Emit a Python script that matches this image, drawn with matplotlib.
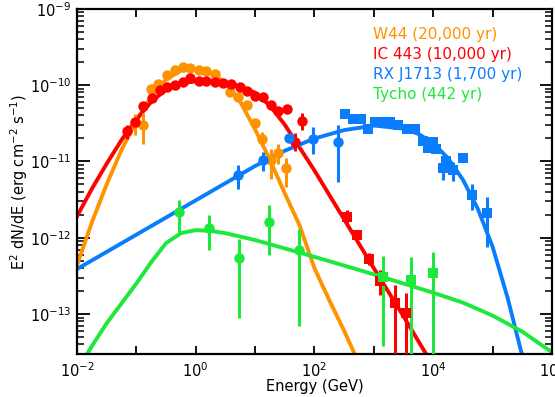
import numpy as np
import matplotlib
matplotlib.use("Agg")
import matplotlib.pyplot as plt
from matplotlib.ticker import NullFormatter, LogLocator

plt.rcParams['font.family'] = ['DejaVu Sans']
plt.rcParams['mathtext.default'] = 'regular'

# ---- colours ----
C_W44 = '#FF9200'
C_IC = '#FF0000'
C_RX = '#0A7DFF'
C_TY = '#1EE83C'

# ---- data (log10 E [GeV], log10 flux [erg cm^-2 s^-1], log err up/down) ----
w44_logE = [-1.02, -0.88, -0.76, -0.63, -0.49, -0.35, -0.22, -0.09, 0.05, 0.18, 0.32,
            0.58, 0.72, 0.86, 1.00, 1.11, 1.27, 1.39, 1.52]
w44_logF = [-10.50, -10.52, -10.05, -9.98, -9.87, -9.80, -9.76, -9.78, -9.80, -9.82, -9.85,
            -10.09, -10.15, -10.26, -10.50, -10.70, -10.98, -10.89, -11.09]
w44_up = [0.12, 0.15, 0.05, 0.03, 0.02, 0.02, 0.02, 0.02, 0.02, 0.02, 0.02,
          0.03, 0.03, 0.04, 0.05, 0.08, 0.14, 0.12, 0.14]
w44_dn = [0.15, 0.25, 0.05, 0.03, 0.02, 0.02, 0.02, 0.02, 0.02, 0.02, 0.02,
          0.03, 0.03, 0.04, 0.06, 0.10, 0.25, 0.15, 0.25]

ic_circ_logE = [-1.16, -1.02, -0.88, -0.74, -0.61, -0.49, -0.35, -0.22, -0.09, 0.05, 0.18,
                0.32, 0.46, 0.60, 0.74, 0.86, 1.00, 1.13, 1.27, 1.39, 1.53, 1.67, 1.79]
ic_circ_logF = [-10.60, -10.48, -10.27, -10.17, -10.07, -10.03, -10.00, -9.96, -9.91, -9.95, -9.95,
                -9.96, -9.97, -9.99, -10.02, -10.08, -10.14, -10.16, -10.26, -10.34, -10.31, -10.75, -10.47]
ic_circ_up = [0.08, 0.05, 0.04, 0.03, 0.02, 0.02, 0.02, 0.02, 0.02, 0.02, 0.02,
              0.02, 0.02, 0.02, 0.02, 0.02, 0.03, 0.03, 0.03, 0.04, 0.05, 0.12, 0.10]
ic_circ_dn = [0.10, 0.06, 0.04, 0.03, 0.02, 0.02, 0.02, 0.02, 0.02, 0.02, 0.02,
              0.02, 0.02, 0.02, 0.02, 0.02, 0.03, 0.03, 0.03, 0.04, 0.05, 0.12, 0.12]

ic_sq_logE = [2.55, 2.72, 2.92, 3.11, 3.35, 3.54]
ic_sq_logF = [-11.73, -11.96, -12.28, -12.57, -12.86, -12.99]
ic_sq_up = [0.10, 0.05, 0.08, 0.15, 0.24, 0.27]
ic_sq_dn = [0.10, 0.05, 0.08, 0.18, 1.5, 1.5]

rx_circ_logE = [0.72, 1.14, 1.57, 1.98, 2.39]
rx_circ_logF = [-11.18, -10.98, -10.69, -10.70, -10.74]
rx_circ_up = [0.13, 0.10, 0.05, 0.15, 0.22]
rx_circ_dn = [0.18, 0.14, 0.05, 0.20, 0.53]

rx_sq_logE = [2.51, 2.65, 2.79, 2.90, 3.02, 3.16, 3.27, 3.41, 3.55, 3.69, 3.83, 3.91,
              4.00, 4.05, 4.17, 4.22, 4.34, 4.50, 4.66, 4.90]
rx_sq_logF = [-10.38, -10.45, -10.45, -10.58, -10.49, -10.48, -10.49, -10.52, -10.57, -10.57,
              -10.73, -10.83, -10.74, -10.84, -11.09, -11.00, -11.11, -10.96, -11.44, -11.67]
rx_sq_up = [0.03] * 14 + [0.10, 0.05, 0.10, 0.05, 0.15, 0.20]
rx_sq_dn = [0.03] * 14 + [0.15, 0.05, 0.15, 0.05, 0.20, 0.45]

ty_circ_logE = [-0.28, 0.23, 0.73, 1.24, 1.74]
ty_circ_logF = [-11.66, -11.87, -12.26, -11.79, -12.16]
ty_circ_up = [0.15, 0.17, 0.25, 0.22, 0.27]
ty_circ_dn = [0.26, 0.29, 0.79, 0.43, 1.00]

ty_sq_logE = [3.16, 3.63, 3.99]
ty_sq_logF = [-12.51, -12.55, -12.46]
ty_sq_up = [0.27, 0.30, 0.27]
ty_sq_dn = [0.91, 1.5, 1.5]

# ---- model curves ----
w44_model_logE = [-2.0, -1.75, -1.5, -1.25, -1.0, -0.75, -0.5, -0.25, 0.0, 0.25, 0.5, 0.75,
                  1.0, 1.25, 1.5, 1.75, 2.0, 2.25, 2.5, 2.75]
w44_model_logF = [-12.36, -11.80, -11.30, -10.85, -10.47, -10.15, -9.93, -9.81, -9.79, -9.84,
                  -9.97, -10.22, -10.58, -10.98, -11.42, -11.84, -12.40, -12.82, -13.22, -13.65]

ic_model_logE = [-2.0, -1.75, -1.5, -1.25, -1.0, -0.75, -0.5, -0.25, 0.0, 0.25, 0.5, 0.75,
                 1.0, 1.25, 1.5, 1.75, 2.0, 2.5, 3.0, 3.5, 4.0]
ic_model_logF = [-11.72, -11.36, -11.03, -10.72, -10.45, -10.22, -10.06, -9.98, -9.95, -9.95,
                 -9.97, -10.02, -10.10, -10.27, -10.52, -10.82, -11.12, -11.76, -12.40, -13.03, -13.68]

rx_model_logE = [-2.0, -1.0, 0.0, 1.0, 1.5, 2.0, 2.5, 3.0, 3.5, 3.75, 4.0, 4.25, 4.5, 4.75,
                 5.0, 5.25, 5.5, 5.6]
rx_model_logF = [-12.41, -11.96, -11.51, -11.06, -10.86, -10.70, -10.59, -10.53, -10.57, -10.64,
                 -10.76, -10.96, -11.24, -11.62, -12.12, -12.78, -13.55, -13.85]

ty_model_logE = [-1.85, -1.75, -1.5, -1.25, -1.0, -0.75, -0.5, -0.25, 0.0, 0.25, 0.5, 1.0,
                 1.5, 2.0, 3.0, 4.0, 4.5, 5.0, 5.5, 6.0]
ty_model_logF = [-13.55, -13.42, -13.12, -12.86, -12.60, -12.32, -12.07, -11.94, -11.90, -11.91,
                 -11.94, -12.03, -12.14, -12.25, -12.48, -12.72, -12.85, -13.02, -13.23, -13.50]

legend_labels = ['W44 (20,000 yr)', 'IC 443 (10,000 yr)', 'RX J1713 (1,700 yr)', 'Tycho (442 yr)']
legend_colors = [C_W44, C_IC, C_RX, C_TY]

xtick_vals = [1e-2, 1e0, 1e2, 1e4, 1e6]
xtick_labels = ['$10^{-2}$', '$10^{0}$', '$10^{2}$', '$10^{4}$', '$10^{6}$']
ytick_vals = [1e-13, 1e-12, 1e-11, 1e-10, 1e-9]
ytick_labels = ['$10^{-13}$', '$10^{-12}$', '$10^{-11}$', '$10^{-10}$', '$10^{-9}$']


def p(v):
    return 10 ** np.asarray(v, dtype=float)


fig = plt.figure(figsize=(5.55, 3.97), dpi=100)
ax = fig.add_axes([0.1387, 0.1083, 0.8559, 0.8697])
ax.set_xscale('log')
ax.set_yscale('log')

LW = 2.8


def errpts(logE, logF, up, dn, color, marker, ms):
    F = p(logF)
    lo = F - p(np.asarray(logF) - np.asarray(dn))
    hi = p(np.asarray(logF) + np.asarray(up)) - F
    ax.errorbar(p(logE), F, yerr=[lo, hi], fmt=marker, color=color, ms=ms,
                elinewidth=2.2, capsize=0, mew=0, zorder=3)


# curves
ax.plot(p(w44_model_logE), p(w44_model_logF), color=C_W44, lw=LW, zorder=2)
ax.plot(p(ic_model_logE), p(ic_model_logF), color=C_IC, lw=LW, zorder=2)
ax.plot(p(rx_model_logE), p(rx_model_logF), color=C_RX, lw=LW, zorder=2)
ax.plot(p(ty_model_logE), p(ty_model_logF), color=C_TY, lw=LW, zorder=2)

# points
errpts(w44_logE, w44_logF, w44_up, w44_dn, C_W44, 'o', 7.5)
errpts(ic_circ_logE, ic_circ_logF, ic_circ_up, ic_circ_dn, C_IC, 'o', 7.5)
errpts(ic_sq_logE, ic_sq_logF, ic_sq_up, ic_sq_dn, C_IC, 's', 7)
errpts(rx_circ_logE, rx_circ_logF, rx_circ_up, rx_circ_dn, C_RX, 'o', 7.5)
errpts(rx_sq_logE, rx_sq_logF, rx_sq_up, rx_sq_dn, C_RX, 's', 7)
errpts(ty_circ_logE, ty_circ_logF, ty_circ_up, ty_circ_dn, C_TY, 'o', 7.5)
errpts(ty_sq_logE, ty_sq_logF, ty_sq_up, ty_sq_dn, C_TY, 's', 7)

ax.set_xlim(1e-2, 1e6)
ax.set_ylim(3e-14, 1e-9)

# ticks
ax.set_xticks(xtick_vals)
ax.set_xticks([10.0 ** k for k in range(-1, 6, 2)], minor=True)
ax.set_xticklabels(xtick_labels)
ax.xaxis.set_minor_formatter(NullFormatter())
ax.set_yticks(ytick_vals)
ax.set_yticklabels(ytick_labels)
ax.yaxis.set_minor_locator(LogLocator(base=10, subs=np.arange(2, 10)))
ax.yaxis.set_minor_formatter(NullFormatter())

ax.tick_params(which='both', direction='in', top=True, right=True, labelsize=10.5, colors='black')
ax.tick_params(axis='y', which='major', length=9, width=1.3, pad=4)
ax.tick_params(axis='y', which='minor', length=5, width=1.1)
ax.tick_params(axis='x', which='major', length=6, width=1.3, pad=5)
ax.tick_params(axis='x', which='minor', length=6, width=1.3)
for s in ax.spines.values():
    s.set_linewidth(1.6)

ax.set_xlabel('Energy (GeV)', fontsize=10.5)
ax.xaxis.set_label_coords(0.5, -0.072)
ax.set_ylabel('E$^2$ dN/dE (erg cm$^{-2}$ s$^{-1}$)', fontsize=10.5)
ax.yaxis.set_label_coords(-0.098, 0.5)

for i, (lab, col) in enumerate(zip(legend_labels, legend_colors)):
    ax.text(0.624, 0.925 - i * 0.058, lab, color=col, fontsize=11,
            transform=ax.transAxes, va='center', ha='left')

fig.savefig('out.png', dpi=100)
